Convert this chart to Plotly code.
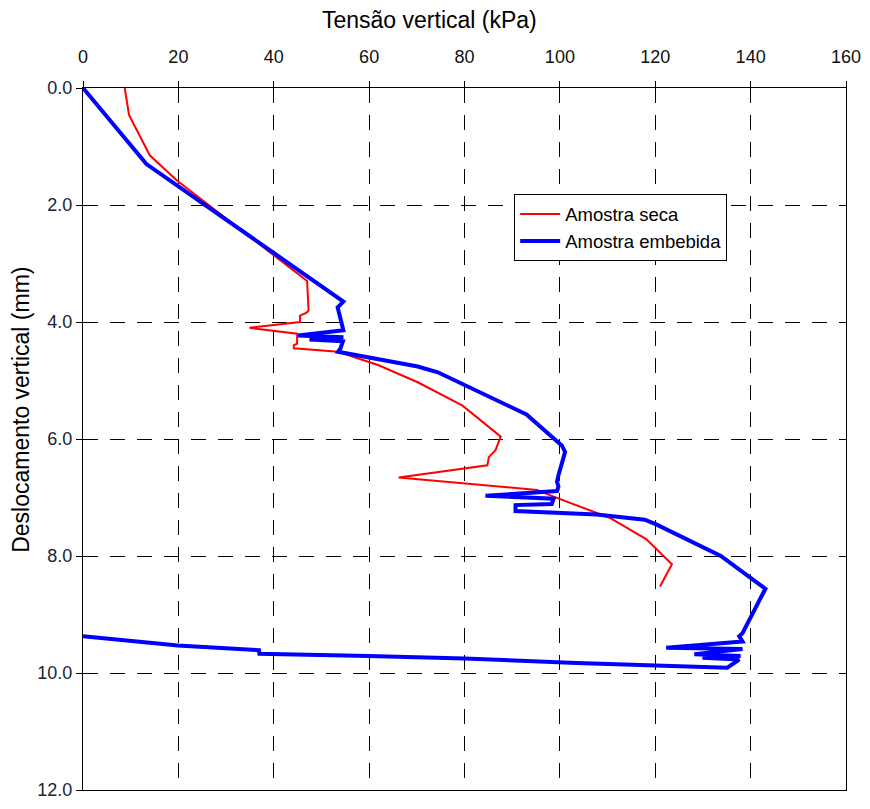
import plotly.graph_objects as go

# Amostra seca (red)
seca_x = [8.75, 9.65, 14.0, 19.7, 47.0, 47.3, 46.9, 45.5, 45.5, 34.9, 44.9, 44.9, 44.2, 44.2,
          53.5, 62.0, 70.2, 79.6, 87.6, 86.5, 85.1, 84.8, 66.2, 95.2, 97.6, 107.7, 110.5,
          118.1, 123.5, 121.0]
seca_y = [0.0, 0.46, 1.15, 1.58, 3.30, 3.80, 3.84, 3.89, 4.00, 4.10, 4.20, 4.37, 4.40, 4.45,
          4.51, 4.74, 5.03, 5.43, 5.96, 6.19, 6.31, 6.45, 6.66, 6.87, 6.95, 7.26, 7.35,
          7.71, 8.14, 8.52]

# Amostra embebida (blue)
emb_x = [0.0, 13.3, 54.6, 53.4, 54.6, 45.1, 54.6, 47.5, 54.5, 54.3, 54.0, 53.5, 70.2, 74.4,
         93.0, 100.4, 101.1, 99.7, 99.4, 99.7, 99.4, 84.4, 98.7, 98.3, 90.7, 90.7, 107.7,
         117.8, 120.2, 133.75, 143.1, 138.3, 137.6, 138.3, 122.3, 138.3, 128.2, 137.9, 129.9,
         137.6, 135.1, 103.5, 80.0, 59.9, 37.0, 36.9, 19.9, 0.0]
emb_y = [0.0, 1.30, 3.65, 3.75, 4.14, 4.23, 4.26, 4.30, 4.33, 4.40, 4.45, 4.51, 4.76, 4.86,
         5.58, 6.11, 6.22, 6.62, 6.73, 6.81, 6.89, 6.97, 7.02, 7.11, 7.13, 7.23, 7.29,
         7.38, 7.46, 8.00, 8.56, 9.32, 9.37, 9.46, 9.57, 9.59, 9.68, 9.71, 9.74,
         9.77, 9.91, 9.83, 9.75, 9.71, 9.67, 9.61, 9.53, 9.37]

x_ticks = [0, 20, 40, 60, 80, 100, 120, 140, 160]
y_ticks = [0, 2, 4, 6, 8, 10, 12]

FONT = "Liberation Sans, Arial, sans-serif"

FIG_W, FIG_H = 870, 809
L, R, T, B = 83, FIG_W - 851, 88, FIG_H - 800
W_PLOT = FIG_W - L - R
H_PLOT = FIG_H - T - B


def px_x(sx):
    return (sx - L) / W_PLOT


def px_y(sy):
    return 1 - (sy - T) / H_PLOT


fig = go.Figure()
fig.add_trace(go.Scatter(x=seca_x, y=seca_y, mode="lines", name="Amostra seca",
                         line=dict(color="#ff0000", width=2)))
fig.add_trace(go.Scatter(x=emb_x, y=emb_y, mode="lines", name="Amostra embebida",
                         line=dict(color="#0000ff", width=4)))
# invisible helper trace so the inside half of the ticks is drawn
fig.add_trace(go.Scatter(x=[None], y=[None], xaxis="x2", yaxis="y2", showlegend=False,
                         hoverinfo="skip"))

fig.update_layout(
    width=FIG_W, height=FIG_H,
    margin=dict(l=L, r=R, t=T, b=B),
    paper_bgcolor="white", plot_bgcolor="white",
    font=dict(family=FONT, color="black"),
    showlegend=True,
    legend=dict(x=px_x(517), y=px_y(196), xanchor="left", yanchor="top",
                bordercolor="black", borderwidth=1, bgcolor="white",
                font=dict(size=18.5, family=FONT, color="black"),
                itemwidth=40, tracegroupgap=0),
    xaxis=dict(range=[0, 160], side="top", tickvals=x_ticks,
               ticktext=[str(v) for v in x_ticks],
               showline=True, linecolor="black", linewidth=1, mirror=True,
               ticks="outside", ticklen=6, tickcolor="black", ticklabelstandoff=11,
               ticklabeloverflow="allow",
               showgrid=True, gridcolor="black", gridwidth=1, griddash="15px,12px",
               zeroline=False, tickfont=dict(size=18, family=FONT, color="#111")),
    yaxis=dict(range=[12, 0], tickvals=y_ticks,
               ticktext=[f"{v:.1f}" for v in y_ticks],
               showline=True, linecolor="black", linewidth=1, mirror=True,
               ticks="outside", ticklen=6, tickcolor="black",
               ticklabeloverflow="allow",
               showgrid=True, gridcolor="black", gridwidth=1, griddash="15px,12px",
               zeroline=False, tickfont=dict(size=18, family=FONT, color="#1a2236")),
    xaxis2=dict(range=[0, 160], overlaying="x", side="top", tickvals=x_ticks,
                showticklabels=False, ticks="inside", ticklen=5, tickcolor="black",
                showgrid=False, zeroline=False, showline=False),
    yaxis2=dict(range=[12, 0], overlaying="y", side="left", tickvals=y_ticks,
                showticklabels=False, ticks="inside", ticklen=5, tickcolor="black",
                showgrid=False, zeroline=False, showline=False),
    annotations=[
        dict(text="Tensão vertical (kPa)", x=px_x(432), y=px_y(19),
             xref="paper", yref="paper", showarrow=False, xanchor="center", yanchor="middle",
             font=dict(size=23, family=FONT, color="black")),
        dict(text="Deslocamento vertical (mm)", x=px_x(21), y=px_y(414),
             xref="paper", yref="paper", showarrow=False, xanchor="center", yanchor="middle",
             textangle=-90, font=dict(size=23, family=FONT, color="black")),
    ],
)

fig.write_html(
    "out.html",
    config={"displayModeBar": False},
    post_script="document.body.style.margin='0';document.body.style.overflow='hidden';",
)
